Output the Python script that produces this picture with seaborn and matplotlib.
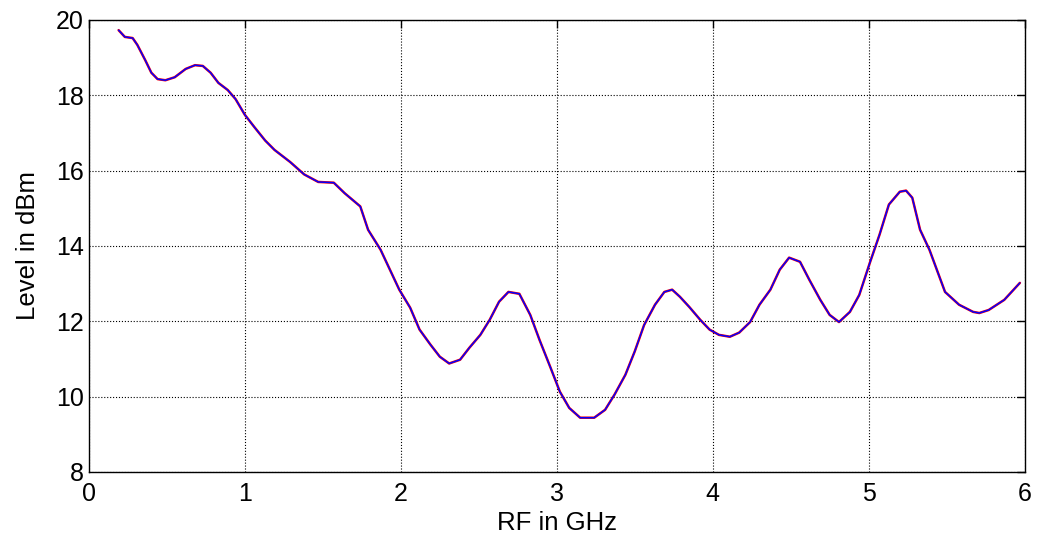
import pandas as pd
import matplotlib.pyplot as plt
import seaborn as sns

# Frequency (GHz) and level (dBm)
freq = [0.19, 0.23, 0.28, 0.31, 0.36, 0.40, 0.44, 0.49, 0.55, 0.62, 0.68, 0.73, 0.78,
        0.83, 0.89, 0.94, 1.00, 1.06, 1.13, 1.19, 1.29, 1.38, 1.47, 1.57, 1.64, 1.74,
        1.79, 1.87, 1.93, 1.99, 2.06, 2.12, 2.19, 2.25, 2.31, 2.38, 2.44, 2.51, 2.57,
        2.63, 2.69, 2.76, 2.83, 2.89, 2.96, 3.02, 3.08, 3.15, 3.24, 3.31, 3.37, 3.44,
        3.50, 3.56, 3.63, 3.69, 3.74, 3.79, 3.85, 3.92, 3.98, 4.04, 4.11, 4.17, 4.24,
        4.30, 4.37, 4.43, 4.49, 4.56, 4.62, 4.69, 4.75, 4.81, 4.88, 4.94, 5.01, 5.07,
        5.13, 5.20, 5.24, 5.28, 5.33, 5.39, 5.49, 5.58, 5.67, 5.71, 5.77, 5.87, 5.97]
level = [19.73, 19.55, 19.52, 19.34, 18.94, 18.60, 18.43, 18.40, 18.48, 18.70, 18.80,
         18.78, 18.60, 18.33, 18.14, 17.90, 17.48, 17.16, 16.80, 16.55, 16.23, 15.90,
         15.70, 15.68, 15.40, 15.05, 14.43, 13.90, 13.37, 12.84, 12.36, 11.78, 11.38,
         11.06, 10.88, 10.98, 11.30, 11.64, 12.04, 12.52, 12.78, 12.73, 12.17, 11.50,
         10.77, 10.13, 9.70, 9.44, 9.44, 9.65, 10.05, 10.58, 11.20, 11.90, 12.44, 12.78,
         12.84, 12.65, 12.38, 12.04, 11.78, 11.64, 11.59, 11.70, 11.98, 12.44, 12.84,
         13.37, 13.69, 13.58, 13.10, 12.57, 12.17, 11.98, 12.25, 12.70, 13.58, 14.30,
         15.10, 15.44, 15.47, 15.28, 14.43, 13.90, 12.78, 12.44, 12.25, 12.22, 12.30,
         12.57, 13.02]

df = pd.DataFrame({'RF': freq, 'Level': level})

sns.set_style("white")
plt.rcParams['font.family'] = ['Liberation Sans', 'DejaVu Sans']

fig = plt.figure(figsize=(10.37, 5.4), dpi=100)
ax = fig.add_axes([0.0858, 0.126, 0.9022, 0.837])

# red trace underneath, blue on top (as in the original)
sns.lineplot(data=df, x='RF', y='Level', ax=ax, color='red', linewidth=1.8)
sns.lineplot(data=df, x='RF', y='Level', ax=ax, color='blue', linewidth=1.1)

ax.set_xlim(0, 6)
ax.set_ylim(8, 20)
ax.set_xticks(range(0, 7))
ax.set_yticks(range(8, 21, 2))
ax.grid(True, color='black', linestyle=':', linewidth=0.8)
ax.tick_params(direction='in', length=6, width=1, labelsize=18,
               top=True, right=True, colors='black')
ax.tick_params(axis='x', pad=7)
for s in ax.spines.values():
    s.set_color('black')
    s.set_linewidth(1)

ax.set_xlabel('RF in GHz', fontsize=18.5, labelpad=4, color='black')
ax.set_ylabel('Level in dBm', fontsize=18.5, labelpad=12, color='black')

plt.savefig('out.png', dpi=100)
